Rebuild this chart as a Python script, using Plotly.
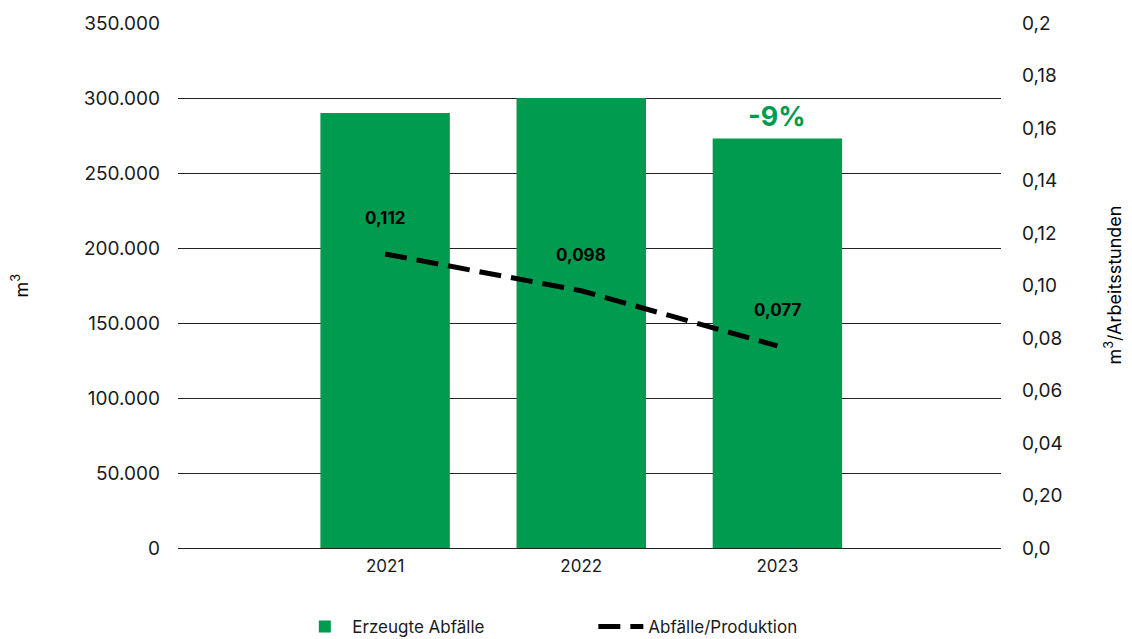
import plotly.graph_objects as go

YEARS = ["2021", "2022", "2023"]
WASTE = [290000, 300000, 273000]
RATIO = [0.112, 0.098, 0.077]
RATIO_LABELS = ["0,112", "0,098", "0,077"]

LEFT_TICKS = [0, 50000, 100000, 150000, 200000, 250000, 300000, 350000]
LEFT_TEXT = ["0", "50.000", "100.000", "150.000", "200.000", "250.000", "300.000", "350.000"]
RIGHT_TICKS = [0, 0.02, 0.04, 0.06, 0.08, 0.10, 0.12, 0.14, 0.16, 0.18, 0.2]
RIGHT_TEXT = ["0,0", "0,20", "0,04", "0,06", "0,08", "0,10", "0,12", "0,14", "0,16", "0,18", "0,2"]

GREEN = "#009b4f"
FONT = "Inter"

fig = go.Figure()
fig.add_trace(
    go.Bar(
        name="Erzeugte Abfälle",
        x=YEARS,
        y=WASTE,
        marker_color=GREEN,
        marker_line_width=0,
        width=0.66,
    )
)
fig.add_trace(
    go.Scatter(
        name="Abfälle/Produktion",
        x=YEARS,
        y=RATIO,
        yaxis="y2",
        mode="lines",
        line=dict(color="black", width=5, dash="22px,10px"),
    )
)

# Value labels above the line points (category index as x).
annotations = []
for i, (v, lbl) in enumerate(zip(RATIO, RATIO_LABELS)):
    annotations.append(
        dict(
            x=i, y=v, xref="x", yref="y2", text=f"<b>{lbl}</b>",
            showarrow=False, yshift=36,
            font=dict(family=FONT, size=17, color="black"),
        )
    )
annotations.append(
    dict(
        x=len(YEARS) - 1, y=WASTE[-1], xref="x", yref="y", text="<b>-9%</b>",
        showarrow=False, yshift=22,
        font=dict(family=FONT, size=27, color=GREEN),
    )
)
# Axis titles.
annotations.append(
    dict(
        x=0, y=0.5, xref="paper", yref="paper", text="m<sup>3</sup>",
        showarrow=False, textangle=-90, xshift=-158, xanchor="center",
        font=dict(family=FONT, size=18, color="black"),
    )
)
annotations.append(
    dict(
        x=1, y=0.5, xref="paper", yref="paper", text="m<sup>3</sup>/Arbeitsstunden",
        showarrow=False, textangle=-90, xshift=112, xanchor="center",
        font=dict(family=FONT, size=18, color="black"),
    )
)

# Page body adds an 8px offset, so the figure is 8px smaller than the window.
fig.update_layout(
    width=1124,
    height=631,
    margin=dict(l=170, r=131, t=15, b=91, autoexpand=False),
    paper_bgcolor="white",
    plot_bgcolor="white",
    font=dict(family=FONT, size=19, color="#1a1a1a"),
    showlegend=True,
    legend=dict(
        orientation="h",
        x=0.145,
        y=-0.116,
        xanchor="left",
        yanchor="top",
        entrywidth=236,
        entrywidthmode="pixels",
        itemwidth=45,
        font=dict(family=FONT, size=17, color="#1a1a1a"),
    ),
    xaxis=dict(
        type="category",
        range=[-1.056, 3.14],
        showgrid=False,
        showline=False,
        ticks="",
        tickfont=dict(size=17),
        ticklabelstandoff=6,
    ),
    yaxis=dict(
        range=[0, 350000],
        tickvals=LEFT_TICKS,
        ticktext=LEFT_TEXT,
        showgrid=True,
        gridcolor="#222222",
        gridwidth=1,
        zeroline=True,
        zerolinecolor="#222222",
        zerolinewidth=1,
        ticks="",
        ticklabelstandoff=17,
    ),
    yaxis2=dict(
        range=[0, 0.2],
        tickvals=RIGHT_TICKS,
        ticktext=RIGHT_TEXT,
        overlaying="y",
        side="right",
        showgrid=False,
        zeroline=False,
        ticks="",
        ticklabelstandoff=20,
    ),
    annotations=annotations,
)

fig.write_html("out.html")
